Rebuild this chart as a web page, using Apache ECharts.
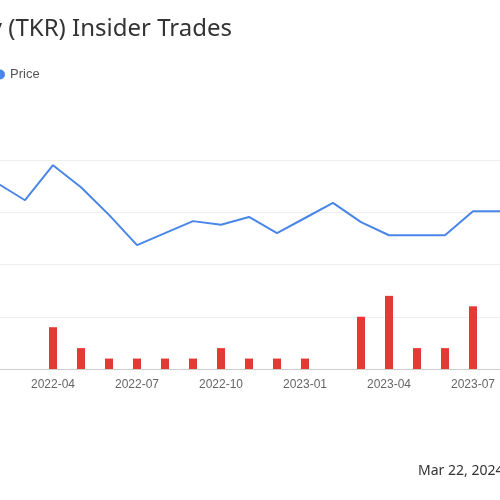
<!DOCTYPE html>
<html>
<head>
<meta charset="utf-8">
<script src="https://cdn.jsdelivr.net/npm/echarts@6/dist/echarts.min.js"></script>
<style>
  body { margin: 0; overflow: hidden; background: #fff; }
  #main { position: absolute; left: -150px; top: 0; width: 800px; height: 500px; }
</style>
</head>
<body>
<div id="main"></div>
<script>
// monthly categories, 2021-11 .. 2023-10
var months = ['2021-11','2021-12','2022-01','2022-02','2022-03','2022-04','2022-05','2022-06',
  '2022-07','2022-08','2022-09','2022-10','2022-11','2022-12','2023-01','2023-02','2023-03',
  '2023-04','2023-05','2023-06','2023-07','2023-08','2023-09','2023-10'];
var price = [null, null, 38.5, 35.6, 32.3, 39.0, 34.8, 29.5, 23.7, 26.0, 28.3, 27.6, 29.1,
  26.0, 28.9, 31.8, 28.1, 25.6, 25.6, 25.6, 30.2, 30.2, 30.2, null];
var trades = [0, 0, 0, 0, 0, 4, 2, 1, 1, 1, 1, 2, 1, 1, 1, 0, 5, 7, 2, 2, 6, 0, 0, 0];

var chart = echarts.init(document.getElementById('main'));
chart.setOption({
  animation: false,
  graphic: [
    { type: 'text', x: 382, y: 17, style: { text: 'Company (TKR) Insider Trades', fill: '#333', font: '24px "Noto Sans", sans-serif', align: 'right' } },
    { type: 'text', x: 568, y: 464, style: { text: 'Mar 22, 2024', fill: '#333', font: '14px "Noto Sans", sans-serif' } }
  ],
  legend: {
    left: 140, top: 63, icon: 'circle', itemWidth: 10, itemHeight: 10,
    textStyle: { color: '#555', fontSize: 13 },
    data: ['Price']
  },
  grid: { left: 63, right: 93, top: 160, bottom: 131 },
  xAxis: {
    type: 'category', data: months, boundaryGap: false,
    axisLine: { lineStyle: { color: '#ccc' } },
    axisTick: { show: false },
    axisLabel: {
      color: '#666', fontSize: 12, margin: 10,
      interval: function (i, v) { return /-(01|04|07|10)$/.test(v); }
    }
  },
  yAxis: [
    { type: 'value', min: 0, max: 40, interval: 10, show: true,
      axisLabel: { show: false }, axisLine: { show: false }, axisTick: { show: false },
      splitLine: { lineStyle: { color: '#eee' } } },
    { type: 'value', min: 0, max: 20, interval: 5, show: false, splitLine: { show: false } }
  ],
  series: [
    { name: 'Price', type: 'line', data: price, yAxisIndex: 0, symbol: 'none',
      lineStyle: { color: '#4a86e8', width: 2 }, itemStyle: { color: '#4a86e8' } },
    { name: 'Trades', type: 'bar', data: trades, yAxisIndex: 1, barWidth: 8,
      itemStyle: { color: '#e53935' } }
  ]
});
</script>
</body>
</html>
